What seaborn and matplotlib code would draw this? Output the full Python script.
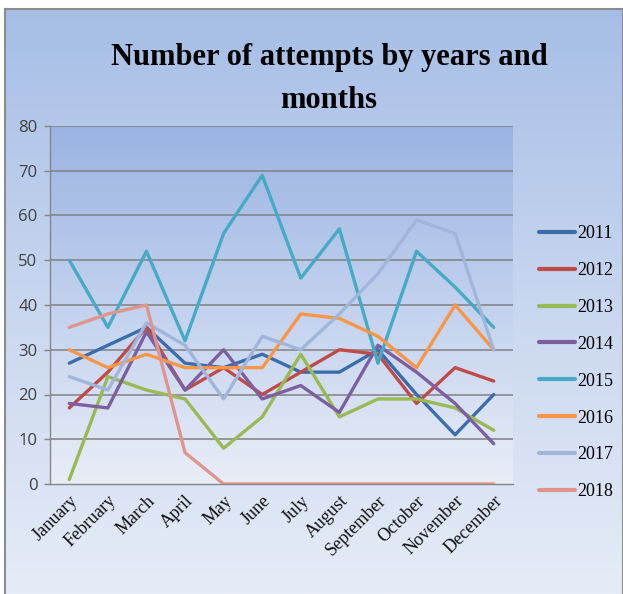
import numpy as np
import pandas as pd
import matplotlib
matplotlib.use("Agg")
import matplotlib.pyplot as plt
from matplotlib.colors import LinearSegmentedColormap
from matplotlib.lines import Line2D
import seaborn as sns

months = ["January", "February", "March", "April", "May", "June", "July",
          "August", "September", "October", "November", "December"]
y2011 = [27, 31, 35, 27, 26, 29, 25, 25, 30, 20, 11, 20]
y2012 = [17, 25, 35, 21, 26, 20, 25, 30, 29, 18, 26, 23]
y2013 = [1, 24, 21, 19, 8, 15, 29, 15, 19, 19, 17, 12]
y2014 = [18, 17, 34, 21, 30, 19, 22, 16, 31, 25, 18, 9]
y2015 = [50, 35, 52, 32, 56, 69, 46, 57, 27, 52, 44, 35]
y2016 = [30, 26, 29, 26, 26, 26, 38, 37, 33, 26, 40, 30]
y2017 = [24, 21, 36, 31, 19, 33, 30, 38, 47, 59, 56, 30]
y2018 = [35, 38, 40, 7, 0, 0, 0, 0, 0, 0, 0, 0]
years = ["2011", "2012", "2013", "2014", "2015", "2016", "2017", "2018"]
series = [y2011, y2012, y2013, y2014, y2015, y2016, y2017, y2018]
colors = ["#3A6DAA", "#BE4B48", "#98B954", "#7D5FA0", "#46AAC5",
          "#F79646", "#A1B5DA", "#E0958C"]

rows = []
for yr, vals in zip(years, series):
    for m, v in zip(months, vals):
        rows.append({"Month": m, "Year": yr, "Value": v})
df = pd.DataFrame(rows)
df["x"] = df["Month"].map({m: i for i, m in enumerate(months)})

sns.set_style("white")
plt.rcParams["font.family"] = ["Liberation Serif", "DejaVu Serif"]
plt.rcParams["text.color"] = "black"

W, H = 623, 594
fig = plt.figure(figsize=(W / 100, H / 100), dpi=100)
fig.patch.set_facecolor("white")

grad = np.linspace(0, 1, 256).reshape(-1, 1)

# figure background gradient (dark at top, light at bottom)
bg = fig.add_axes([5 / W, 0, 1 - 5 / W, 1 - 9 / H], zorder=-10)
cmap_bg = LinearSegmentedColormap.from_list("bg", ["#A6BEE6", "#C8D6EF", "#E6ECF7"])
bg.imshow(grad, aspect="auto", cmap=cmap_bg, extent=[0, 1, 0, 1], origin="upper")
bg.set_xlim(0, 1)
bg.set_ylim(0, 1)
bg.set_xticks([])
bg.set_yticks([])
for k, s in bg.spines.items():
    s.set_color("#8C8C8C")
    s.set_linewidth(1.5)
bg.spines["bottom"].set_visible(False)

ax = fig.add_axes([50 / W, (H - 484) / H, (513 - 50) / W, (484 - 126) / H])
cmap_ax = LinearSegmentedColormap.from_list("ax", ["#9AB3E2", "#C2D1EE", "#E8EDF7"])
ax.imshow(grad, aspect="auto", cmap=cmap_ax, extent=[-0.5, 11.5, 0, 80],
          origin="upper", zorder=0)

for v in range(10, 90, 10):
    ax.axhline(v, color="#808080", lw=1.1, zorder=1)

sns.lineplot(data=df, x="x", y="Value", hue="Year", palette=colors,
             hue_order=years, ax=ax, lw=2.4, legend=False, zorder=3,
             sort=False)

ax.set_xlim(-0.5, 11.5)
ax.set_ylim(0, 80)
ax.set_xticks(range(12))
ax.set_xticklabels(months, rotation=45, ha="right", rotation_mode="anchor",
                   fontsize=13, color="#111111")
ax.set_xticks(np.arange(-0.5, 12, 1), minor=True)
ax.tick_params(axis="x", which="major", length=0, pad=6)
ax.tick_params(axis="x", which="minor", length=4, color="#868686", width=1)
ax.set_yticks(range(0, 90, 10))
ax.set_yticklabels([str(v) for v in range(0, 90, 10)],
                   family=["Open Sans", "DejaVu Sans"], fontsize=12,
                   color="#404040")
ax.tick_params(axis="y", length=4, color="#868686", width=1, left=True, pad=5)
ax.set_xlabel("")
ax.set_ylabel("")
for k in ["top", "right"]:
    ax.spines[k].set_visible(False)
ax.spines["left"].set_color("#868686")
ax.spines["bottom"].set_color("#868686")
ax.spines["left"].set_linewidth(1)
ax.spines["bottom"].set_linewidth(1)

handles = [Line2D([0], [0], color=c, lw=3) for c in colors]
leg = fig.legend(handles, years, loc="upper left",
                 bbox_to_anchor=(532 / W, 1 - 218 / H), frameon=False,
                 fontsize=13, handlelength=2.0, handletextpad=0.1,
                 labelspacing=1.1, borderaxespad=0)
for t in leg.get_texts():
    t.set_color("black")

fig.text(329 / W, 1 - 57 / H, "Number of attempts by years and",
         ha="center", va="center", fontsize=22, fontweight="bold",
         color="black")
fig.text(329 / W, 1 - 100 / H, "months", ha="center", va="center",
         fontsize=22, fontweight="bold", color="black")

fig.savefig("out.png", dpi=100, facecolor=fig.get_facecolor())
